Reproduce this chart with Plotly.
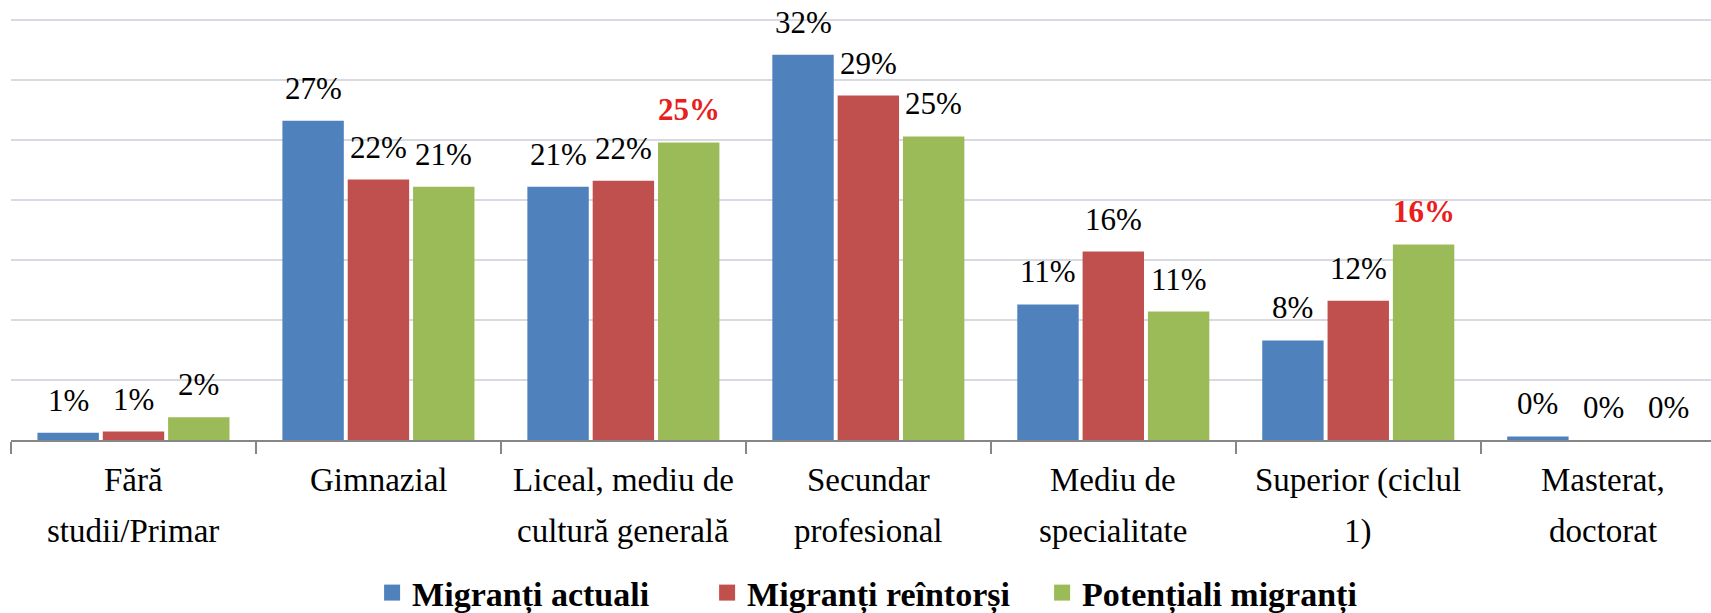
import plotly.graph_objects as go

categories = ["Fără studii/Primar", "Gimnazial", "Liceal, mediu de cultură generală",
              "Secundar profesional", "Mediu de specialitate", "Superior (ciclul 1)",
              "Masterat, doctorat"]
label_line1 = ["Fără", "Gimnazial", "Liceal, mediu de", "Secundar", "Mediu de", "Superior (ciclul", "Masterat,"]
label_line2 = ["studii/Primar", "", "cultură generală", "profesional", "specialitate", "1)", "doctorat"]
series_names = ["Migranți actuali", "Migranți reîntorși", "Potențiali migranți"]
actuali = [0.6, 26.6, 21.1, 32.1, 11.3, 8.3, 0.3]
reintorsi = [0.7, 21.7, 21.6, 28.7, 15.7, 11.6, 0.0]
potentiali = [1.9, 21.1, 24.8, 25.3, 10.7, 16.3, 0.0]
labels_actuali = ["1%", "27%", "21%", "32%", "11%", "8%", "0%"]
labels_reintorsi = ["1%", "22%", "22%", "29%", "16%", "12%", "0%"]
labels_potentiali = ["2%", "21%", "25%", "25%", "11%", "16%", "0%"]
highlight_potentiali = [False, False, True, False, False, True, False]

colors = ["#4F81BD", "#C0504D", "#9BBB59"]
FONT = "Liberation Serif"

W, H = 1711, 613
ML, MR, MT, MB = 11, 0, 16, 173
x_range = [-0.5, 6.44]
y_range = [0, 35.333]
bargap, bargroupgap = 0.2, 0.06

fig = go.Figure()
all_vals = [actuali, reintorsi, potentiali]
all_labels = [labels_actuali, labels_reintorsi, labels_potentiali]
for name, vals, col in zip(series_names, all_vals, colors):
    fig.add_trace(go.Bar(name=name, x=categories, y=vals, marker=dict(color=col, line=dict(width=0)),
                         hoverinfo="skip", showlegend=False))
# legend entries with larger square swatches
for name, col in zip(series_names, colors):
    fig.add_trace(go.Scatter(name=name, x=[None], y=[None], mode="markers",
                             marker=dict(symbol="square", size=20, color=col), showlegend=True))

cat_px = (W - ML - MR) / (x_range[1] - x_range[0])
slot_px = cat_px * (1 - bargap) / 3
for i, (vals, labs) in enumerate(zip(all_vals, all_labels)):
    for j, (c, v, lab) in enumerate(zip(categories, vals, labs)):
        hl = (i == 2 and highlight_potentiali[j])
        fig.add_annotation(x=c, y=v, xref="x", yref="y", text=f"<b>{lab}</b>" if hl else lab,
                           showarrow=False, yanchor="bottom", xanchor="center",
                           xshift=(i - 1) * slot_px, yshift=13,
                           font=dict(family=FONT, size=31, color="#e8201c" if hl else "#000000"))

# category labels (two rows, with the wider line spacing of the original)
for c, l1, l2 in zip(categories, label_line1, label_line2):
    for txt, dy in ((l1, -40), (l2, -91)):
        if txt:
            fig.add_annotation(x=c, y=0, xref="x", yref="paper", text=txt, showarrow=False,
                               xanchor="center", yanchor="middle", yshift=dy,
                               font=dict(family=FONT, size=33, color="#000000"))

plot_h = H - MT - MB
fig.update_layout(
    width=W, height=H, margin=dict(l=ML, r=MR, t=MT, b=MB, autoexpand=False),
    paper_bgcolor="white", plot_bgcolor="white",
    barmode="group", bargap=bargap, bargroupgap=bargroupgap,
    font=dict(family=FONT, color="#000000"),
    showlegend=True,
    legend=dict(orientation="h", x=0.508, xanchor="center", y=-(593 - (H - MB)) / plot_h,
                yanchor="middle", itemsizing="trace",
                font=dict(family=FONT, size=34, color="#000000", weight="bold"),
                entrywidth=290, entrywidthmode="pixels"),
    xaxis=dict(range=x_range, showgrid=False, showline=True, linecolor="#868686", linewidth=1.5,
               ticks="outside", tickson="boundaries", ticklen=12, tickcolor="#868686", tickwidth=1.5,
               showticklabels=False),
    yaxis=dict(range=y_range, dtick=5, showgrid=True, gridcolor="#d9d9e2", gridwidth=1.5,
               showticklabels=False, zeroline=False, showline=False),
)

fig.write_html("out.html", config={"displayModeBar": False},
               post_script="document.body.style.margin='0';")
